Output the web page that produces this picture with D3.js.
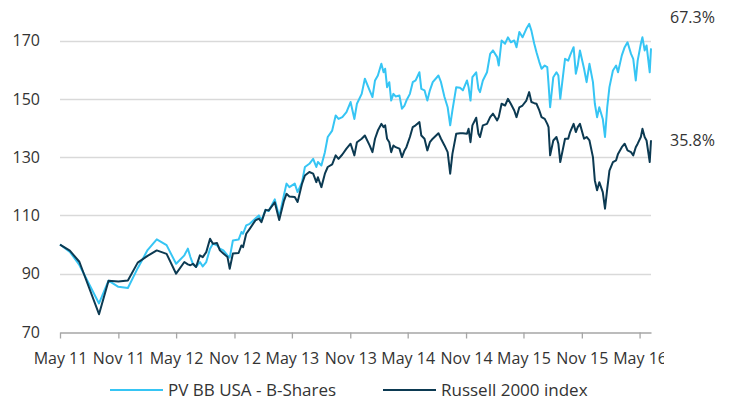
<!DOCTYPE html>
<html>
<head>
<meta charset="utf-8">
<script src="https://cdn.jsdelivr.net/npm/d3@7"></script>
<style>
  body { margin: 0; background: #fff; }
  svg text { font-family: "Open Sans", "Noto Sans", sans-serif; fill: #333; }
</style>
</head>
<body>
<div id="chart"></div>
<script>
var margin = {left: 60, top: 40, right: 80, bottom: 70},
    width = 731,
    height = 402;

var seriesNames = ['PV BB USA - B-Shares', 'Russell 2000 index'],
    colors = ['#36c5f4', '#0c3a52'];

var yTicks = [70, 90, 110, 130, 150, 170];
var xTicks = ['2011-05-01', '2011-11-01', '2012-05-01', '2012-11-01', '2013-05-01', '2013-11-01',
              '2014-05-01', '2014-11-01', '2015-05-01', '2015-11-01', '2016-05-01'];
var xTickLabels = ['May 11', 'Nov 11', 'May 12', 'Nov 12', 'May 13', 'Nov 13',
                   'May 14', 'Nov 14', 'May 15', 'Nov 15', 'May 16'];

var dates = [
  '2011-05-01','2011-06-01','2011-07-01','2011-08-01','2011-09-01','2011-10-01','2011-11-01','2011-12-01',
  '2012-01-01','2012-02-01','2012-03-01','2012-04-01','2012-05-01','2012-05-27','2012-06-07','2012-06-15',
  '2012-06-23','2012-07-03','2012-07-15','2012-07-24','2012-08-04','2012-08-16','2012-08-25','2012-09-07',
  '2012-09-16','2012-09-27','2012-10-10','2012-10-17','2012-10-27','2012-11-14','2012-11-23','2012-11-28',
  '2012-12-08','2012-12-19','2013-01-06','2013-01-17','2013-01-25','2013-02-07','2013-02-17','2013-03-08',
  '2013-03-22','2013-04-06','2013-04-14','2013-04-23','2013-05-10','2013-05-19','2013-06-02','2013-06-11',
  '2013-06-25','2013-07-07','2013-07-17','2013-07-22','2013-08-02','2013-08-13','2013-08-22','2013-09-05',
  '2013-09-16','2013-09-25','2013-10-07','2013-10-20','2013-11-02','2013-11-14','2013-11-22','2013-12-07',
  '2013-12-17','2014-01-01','2014-01-10','2014-01-18','2014-01-27','2014-02-07','2014-02-14','2014-02-19',
  '2014-02-25','2014-03-04','2014-03-10','2014-03-17','2014-03-24','2014-04-05','2014-04-13','2014-04-21',
  '2014-04-27','2014-05-08','2014-05-17','2014-05-26','2014-06-07','2014-06-13','2014-06-23','2014-07-02',
  '2014-07-10','2014-07-19','2014-08-06','2014-08-14','2014-08-25','2014-09-04','2014-09-12','2014-09-19',
  '2014-10-01','2014-10-13','2014-10-22','2014-11-04','2014-11-09','2014-11-15','2014-11-21','2014-12-03',
  '2014-12-10','2014-12-15','2014-12-24','2015-01-06','2015-01-16','2015-01-25','2015-02-07','2015-02-12',
  '2015-02-21','2015-03-04','2015-03-13','2015-03-22','2015-04-02','2015-04-09','2015-04-18','2015-04-28',
  '2015-05-10','2015-05-19','2015-05-26','2015-06-04','2015-06-11','2015-06-20','2015-06-27','2015-07-07',
  '2015-07-15','2015-07-19','2015-07-24','2015-08-03','2015-08-13','2015-08-19','2015-08-25','2015-09-09',
  '2015-09-19','2015-09-25','2015-10-06','2015-10-13','2015-10-19','2015-10-26','2015-11-08','2015-11-16',
  '2015-11-25','2015-12-06','2015-12-12','2015-12-19','2015-12-26','2016-01-06','2016-01-13','2016-01-20',
  '2016-01-27','2016-02-07','2016-02-17','2016-02-23','2016-03-06','2016-03-15','2016-03-24','2016-04-04',
  '2016-04-11','2016-04-19','2016-04-25','2016-05-05','2016-05-10','2016-05-17','2016-05-23','2016-06-02',
  '2016-06-06'
];

var pvValues = [
  100, 97.5, 93.0, 86.4, 79.8, 87.6, 85.5, 85.1,
  91.9, 98.1, 101.8, 99.8, 93.4, 96.3, 98.6, 95.7,
  93.4, 92.3, 94.0, 92.5, 94.0, 98.6, 100.3, 99.7,
  98.6, 98.0, 96.3, 95.5, 101.4, 101.7, 104.3, 103.7,
  106.6, 107.1, 108.9, 110.0, 108.3, 111.9, 111.5, 115.5,
  109.5, 117.0, 120.9, 119.7, 120.9, 118.0, 121.4, 126.6,
  127.7, 129.4, 126.6, 128.3, 127.1, 131.7, 136.9, 139.1,
  144.3, 143.1, 143.7, 145.4, 148.9, 143.1, 148.3, 151.7,
  156.9, 152.9, 150.6, 156.3, 158.0, 162.0, 159.1, 160.3,
  154.0, 155.7, 149.4, 151.7, 150.8, 151.1, 146.6, 147.7,
  149.4, 151.7, 155.7, 156.3, 159.1, 153.4, 152.9, 149.4,
  152.9, 155.7, 158.0, 155.7, 150.6, 147.1, 140.9, 146.0,
  154.0, 153.8, 152.9, 156.3, 154.0, 149.4, 157.4, 159.1,
  153.4, 152.3, 156.3, 159.1, 165.4, 166.6, 164.3, 161.4,
  170.0, 168.9, 171.1, 169.4, 170.0, 167.7, 172.9, 171.1,
  174.0, 175.7, 173.4, 168.9, 166.0, 162.6, 160.3, 161.4,
  160.9, 155.1, 147.1, 157.4, 159.1, 158.0, 150.0, 163.7,
  163.1, 164.9, 167.7, 158.6, 161.4, 166.6, 160.3, 155.7,
  162.0, 155.7, 148.3, 143.7, 147.1, 143.1, 136.9, 147.1,
  154.0, 159.7, 161.4, 159.1, 164.9, 167.7, 169.4, 165.4,
  163.7, 156.3, 163.1, 168.9, 171.1, 166.6, 168.3, 159.1,
  167.3
];

var r2kValues = [
  100, 97.9, 94.1, 85.1, 76.1, 87.6, 87.3, 87.7,
  93.8, 96.1, 98.0, 96.8, 90.0, 94.0, 93.2, 92.9,
  93.4, 92.3, 96.3, 95.7, 97.4, 102.0, 100.3, 100.5,
  98.0, 96.9, 95.7, 91.7, 96.9, 97.1, 99.7, 99.1,
  103.7, 105.4, 108.3, 108.9, 107.7, 111.9, 111.7, 114.5,
  108.4, 115.0, 117.4, 116.5, 116.3, 114.6, 120.9, 123.7,
  124.9, 124.3, 121.4, 123.1, 119.7, 124.3, 126.6, 127.5,
  130.6, 129.4, 130.9, 132.9, 134.6, 130.6, 135.1, 136.3,
  137.4, 134.0, 131.7, 136.3, 139.1, 141.4, 140.3, 140.9,
  136.3, 135.1, 131.7, 134.0, 133.4, 132.9, 130.0, 132.3,
  133.4, 136.9, 140.3, 140.9, 142.0, 137.4, 136.3, 132.3,
  135.1, 136.3, 138.2, 136.3, 134.0, 131.7, 124.3, 131.1,
  138.0, 138.2, 138.2, 138.0, 139.7, 135.1, 140.9, 143.5,
  138.0, 136.9, 140.9, 141.4, 143.7, 144.9, 142.6, 143.7,
  148.3, 147.7, 150.0, 148.3, 146.0, 143.7, 147.1, 147.7,
  149.4, 152.3, 148.9, 148.5, 148.3, 146.0, 143.7, 143.1,
  141.4, 140.3, 130.6, 135.7, 136.9, 134.6, 128.3, 136.3,
  136.3, 138.6, 141.4, 138.6, 140.3, 141.4, 136.3, 136.9,
  135.7, 130.0, 122.0, 118.6, 121.4, 118.0, 112.3, 119.1,
  125.4, 128.3, 128.9, 131.1, 133.4, 134.6, 132.3, 131.7,
  130.6, 133.4, 134.6, 136.9, 139.7, 136.9, 135.7, 128.3,
  135.8
];

var parseDate = d3.timeParse('%Y-%m-%d');

var series = [pvValues, r2kValues].map(function(vals, s) {
  return {
    name: seriesNames[s],
    color: colors[s],
    values: vals.map(function(v, i) { return {date: parseDate(dates[i]), value: v}; })
  };
});

var svg = d3.select('#chart').append('svg')
    .attr('width', width)
    .attr('height', height);

// the original cuts the last axis label at the right edge of the plot frame
svg.append('clipPath')
    .attr('id', 'axisclip')
    .append('rect')
    .attr('x', 0)
    .attr('y', -20)
    .attr('width', 664)
    .attr('height', 80);

var x = d3.scaleTime()
    .domain([parseDate('2011-05-01'), parseDate('2016-06-06')])
    .range([margin.left, 651]);

var y = d3.scaleLinear()
    .domain([70, 170])
    .range([332, 40.5]);

// gridlines
svg.append('g')
    .selectAll('line')
    .data(yTicks.slice(1))
    .enter().append('line')
    .attr('x1', margin.left)
    .attr('x2', 651)
    .attr('y1', function(d) { return Math.round(y(d)) + 0.5; })
    .attr('y2', function(d) { return Math.round(y(d)) + 0.5; })
    .style('stroke', '#d9d9d9')
    .style('stroke-width', 1.3);

// y labels
svg.append('g')
    .selectAll('text')
    .data(yTicks)
    .enter().append('text')
    .attr('x', 40)
    .attr('y', function(d) { return y(d); })
    .attr('dy', '0.36em')
    .attr('text-anchor', 'end')
    .style('font-size', '16px')
    .text(function(d) { return d; });

// x axis
var xAxis = d3.axisBottom(x)
    .tickValues(xTicks.map(parseDate))
    .tickSize(6)
    .tickSizeOuter(0)
    .tickFormat(function(d, i) { return xTickLabels[i]; });

var gx = svg.append('g')
    .attr('transform', 'translate(0,' + (Math.round(y(70)) + 0.5) + ')')
    .attr('clip-path', 'url(#axisclip)')
    .call(xAxis);

gx.select('.domain').style('stroke', '#a6a6a6').style('stroke-width', 1.3);
gx.selectAll('.tick line').style('stroke', '#a6a6a6').style('stroke-width', 1.3);
gx.selectAll('.tick text')
    .attr('y', 20)
    .attr('dy', '0.71em')
    .style('font-size', '16px')
    .style('font-family', '"Open Sans", "Noto Sans", sans-serif')
    .style('fill', '#333');

// lines
var line = d3.line()
    .x(function(d) { return x(d.date); })
    .y(function(d) { return y(d.value); });

svg.append('g')
    .selectAll('path')
    .data(series)
    .enter().append('path')
    .attr('d', function(d) { return line(d.values); })
    .style('fill', 'none')
    .style('stroke', function(d) { return d.color; })
    .style('stroke-width', 2)
    .style('stroke-linejoin', 'round');

// end labels
var labelLevels = [178, 135.8];
svg.append('g')
    .selectAll('text')
    .data(series)
    .enter().append('text')
    .attr('x', 670)
    .attr('y', function(d, i) { return y(labelLevels[i]); })
    .attr('dy', '0.36em')
    .style('font-size', '16px')
    .text(function(d) {
      var last = d.values[d.values.length - 1].value;
      return (last - 100).toFixed(1) + '%';
    });

// legend
var legendX = [110, 383];
var legend = svg.append('g')
    .selectAll('g')
    .data(series)
    .enter().append('g')
    .attr('transform', function(d, i) { return 'translate(' + legendX[i] + ',390)'; });

legend.append('line')
    .attr('x1', 0)
    .attr('x2', 53)
    .style('stroke', function(d) { return d.color; })
    .style('stroke-width', 2);

legend.append('text')
    .attr('x', 58)
    .attr('dy', '0.36em')
    .style('font-size', '17px')
    .text(function(d) { return d.name; });
</script>
</body>
</html>
